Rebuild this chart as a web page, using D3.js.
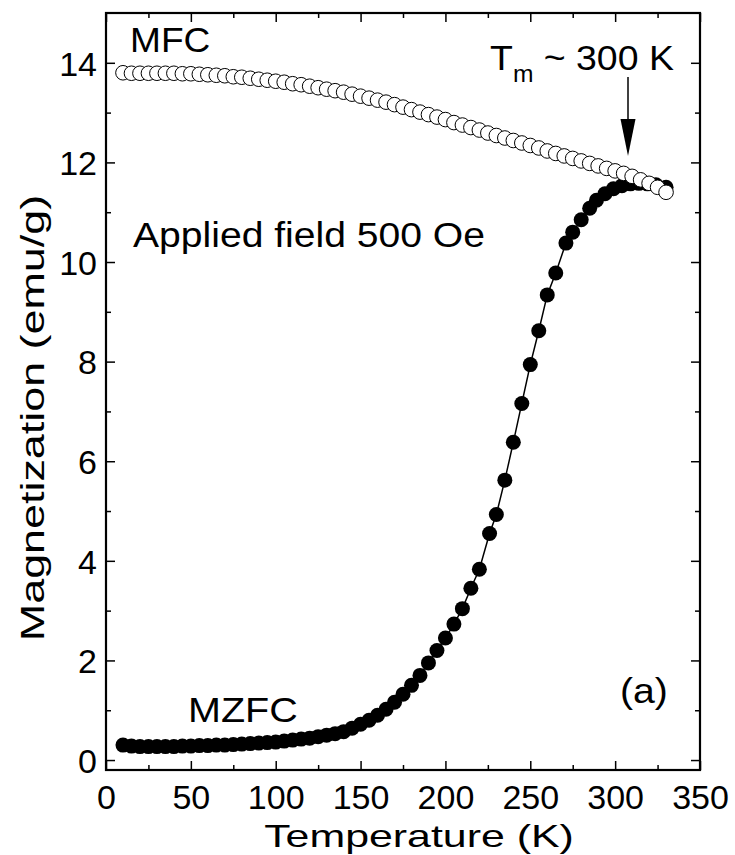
<!DOCTYPE html>
<html><head><meta charset="utf-8">
<script src="https://cdn.jsdelivr.net/npm/d3@7"></script>
<style>body{margin:0;background:#fff}svg{display:block}text{font-family:"Liberation Sans",Arial,sans-serif;fill:#000}</style>
</head><body>
<svg id="c" width="735" height="855"></svg>
<script>
const mzfcT = [10,15,20,25,30,35,40,45,50,55,60,65,70,75,80,85,90,95,100,105,110,115,120,125,130,135,140,145,150,155,160,165,170,175,180,185,190,195,200,205,210,215,220,226,230,235,240,245,250,255,260,265,271,275,280,285,289,294,299,304,309,314,319,324,330];
const mzfcM = [0.30,0.28,0.27,0.27,0.27,0.27,0.27,0.28,0.28,0.29,0.29,0.30,0.30,0.31,0.32,0.33,0.34,0.35,0.36,0.38,0.40,0.42,0.44,0.47,0.50,0.53,0.57,0.64,0.72,0.80,0.90,1.02,1.16,1.32,1.50,1.70,1.95,2.20,2.45,2.73,3.04,3.45,3.83,4.55,4.93,5.62,6.38,7.16,7.94,8.62,9.34,9.78,10.38,10.60,10.85,11.08,11.24,11.37,11.47,11.53,11.57,11.58,11.57,11.55,11.50];
const mfcT = [10,15,20,25,30,35,40,45,50,55,60,65,70,75,80,85,90,95,100,105,110,115,120,125,130,135,140,145,150,155,160,165,170,175,180,185,190,195,200,205,210,215,220,225,230,235,240,245,250,255,260,265,270,275,280,285,290,295,300,305,310,315,320,325,330];
const mfcM = [13.80,13.79,13.79,13.79,13.79,13.79,13.79,13.78,13.78,13.77,13.76,13.75,13.74,13.72,13.71,13.69,13.67,13.65,13.63,13.61,13.58,13.56,13.53,13.50,13.47,13.44,13.41,13.37,13.33,13.29,13.25,13.21,13.16,13.11,13.06,13.01,12.96,12.91,12.86,12.80,12.75,12.70,12.65,12.59,12.54,12.49,12.44,12.39,12.34,12.29,12.23,12.18,12.13,12.08,12.03,11.98,11.93,11.88,11.83,11.78,11.72,11.65,11.58,11.50,11.40];
const xTicks = [0,50,100,150,200,250,300,350];
const yTicks = [0,2,4,6,8,10,12,14];
const xMinor = [25,75,125,175,225,275,325];
const yMinor = [1,3,5,7,9,11,13];

const svg = d3.select("#c");
const L=106, R=700, T=13, B=770;
const x = d3.scaleLinear().domain([0,350]).range([L,R]);
const y = d3.scaleLinear().domain([-0.2,15]).range([B,T]);
const FONT = '"Liberation Sans",Arial,sans-serif';

function addAxis(axisGen, tx, ty){
  const g = svg.append("g").attr("transform",`translate(${tx},${ty})`).call(axisGen);
  g.select(".domain").remove();
  g.selectAll("line").attr("stroke","#000").attr("stroke-width",1.5);
  return g;
}
addAxis(d3.axisBottom(x).tickValues(xTicks).tickSizeInner(-9).tickSizeOuter(0).tickFormat(""),0,B);
addAxis(d3.axisBottom(x).tickValues(xMinor).tickSizeInner(-5).tickSizeOuter(0).tickFormat(""),0,B);
addAxis(d3.axisTop(x).tickValues(xTicks).tickSizeInner(-9).tickSizeOuter(0).tickFormat(""),0,T);
addAxis(d3.axisTop(x).tickValues(xMinor).tickSizeInner(-5).tickSizeOuter(0).tickFormat(""),0,T);
addAxis(d3.axisLeft(y).tickValues(yTicks).tickSizeInner(-9).tickSizeOuter(0).tickFormat(""),L,0);
addAxis(d3.axisLeft(y).tickValues(yMinor).tickSizeInner(-5).tickSizeOuter(0).tickFormat(""),L,0);
addAxis(d3.axisRight(y).tickValues(yTicks).tickSizeInner(-9).tickSizeOuter(0).tickFormat(""),R,0);
addAxis(d3.axisRight(y).tickValues(yMinor).tickSizeInner(-5).tickSizeOuter(0).tickFormat(""),R,0);

// tick labels
const xl = svg.append("g").attr("transform",`translate(0,${B})`).call(d3.axisBottom(x).tickValues(xTicks).tickSize(0).tickPadding(0).tickFormat(d3.format("d")));
xl.select(".domain").remove();
xl.selectAll("text").attr("y",39).attr("dy",0).style("font-size","34px").style("font-family",FONT);
const yl = svg.append("g").attr("transform",`translate(${L},0)`).call(d3.axisLeft(y).tickValues(yTicks).tickSize(0).tickPadding(0).tickFormat(d3.format("d")));
yl.select(".domain").remove();
yl.selectAll("text").attr("x",-9).attr("dy","0.36em").style("font-size","34px").style("font-family",FONT);

// frame
svg.append("rect").attr("x",L).attr("y",T).attr("width",R-L).attr("height",B-T).attr("fill","none").attr("stroke","#000").attr("stroke-width",2.2);

// data
const zf = mzfcT.map((t,i)=>[t,mzfcM[i]]);
const mf = mfcT.map((t,i)=>[t,mfcM[i]]);
const line = d3.line().x(d=>x(d[0])).y(d=>y(d[1]));
svg.append("path").attr("d",line(zf)).attr("fill","none").attr("stroke","#000").attr("stroke-width",1.5);
svg.append("g").selectAll("circle").data(zf).join("circle").attr("cx",d=>x(d[0])).attr("cy",d=>y(d[1])).attr("r",7.5).attr("fill","#000");
svg.append("path").attr("d",line(mf)).attr("fill","none").attr("stroke","#000").attr("stroke-width",1);
svg.append("g").selectAll("circle").data(mf).join("circle").attr("cx",d=>x(d[0])).attr("cy",d=>y(d[1])).attr("r",7.3).attr("fill","#fff").attr("stroke","#000").attr("stroke-width",1);

// text helper: scaled horizontally
function label(px, py, str, size, sx, anchor, rot){
  const g = svg.append("g").attr("transform",`translate(${px},${py})` + (rot?` rotate(${rot})`:"") + ` scale(${sx},1)`);
  const t = g.append("text").style("font-size",size+"px").attr("text-anchor",anchor||"start");
  if (str) t.text(str);
  return t;
}
label(130,52,"MFC",35,1.06);
const tm = label(490,70,null,35,1.07);
tm.append("tspan").text("T");
tm.append("tspan").attr("dy",12).style("font-size","23px").text("m");
tm.append("tspan").attr("dy",-12).text(" ~ 300 K");
label(133,247,"Applied field 500 Oe",35,1.117);
label(188,722,"MZFC",35,1.13);
label(620,703,"(a)",35,1.12);

// arrow
const ax = 628;
svg.append("line").attr("x1",ax).attr("x2",ax).attr("y1",77).attr("y2",122).attr("stroke","#000").attr("stroke-width",1.5);
svg.append("path").attr("d",`M${ax-7.5},119 L${ax+7.5},119 L${ax},156 Z`).attr("fill","#000");

// axis titles
label(419,847,"Temperature (K)",32,1.34,"middle");
label(44,418,"Magnetization (emu/g)",33,1.36,"middle",-90);
</script>
</body></html>
